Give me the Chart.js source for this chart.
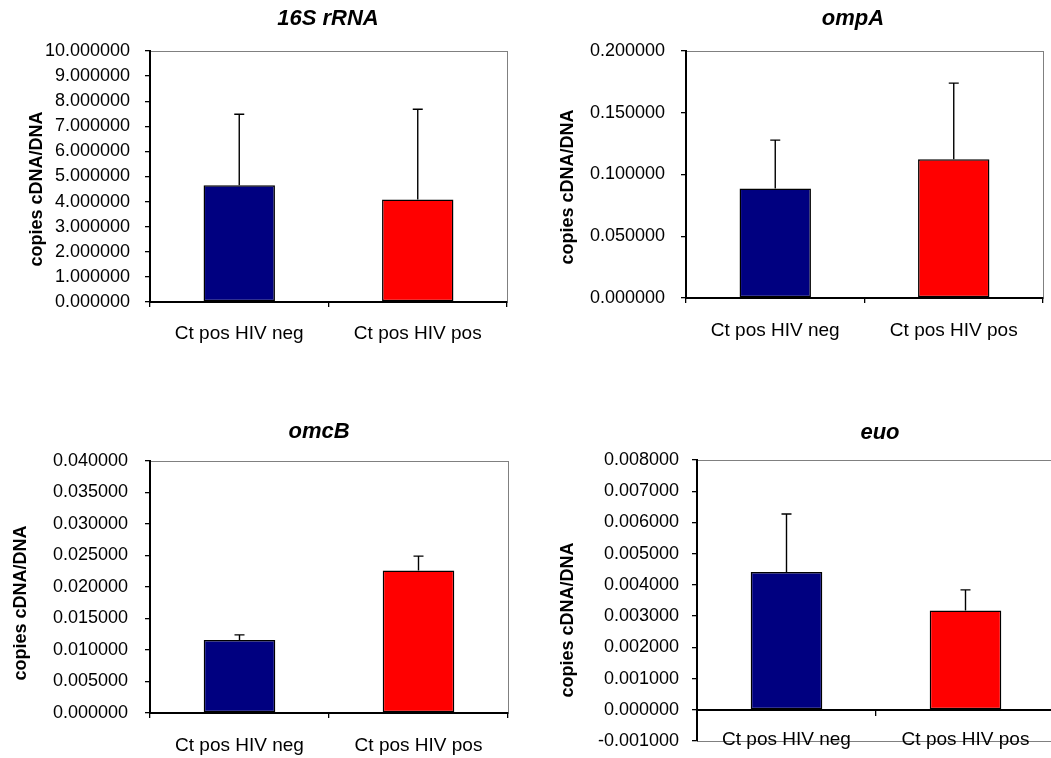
<!DOCTYPE html>
<html>
<head>
<meta charset="utf-8">
<script src="https://cdn.jsdelivr.net/npm/chart.js@4.4.1/dist/chart.umd.min.js"></script>
<style>
    html, body { margin: 0; padding: 0; background: #fff; width: 1051px; height: 758px; overflow: hidden; }
    canvas { position: absolute; left: 0; top: 0; }
</style>
</head>
<body>
<canvas id="rrnaChart" width="1060" height="800"></canvas>
<canvas id="ompaChart" width="1060" height="800"></canvas>
<canvas id="omcbChart" width="1060" height="800"></canvas>
<canvas id="euoChart" width="1060" height="800"></canvas>
<script>
const categories = ['Ct pos HIV neg', 'Ct pos HIV pos'];
const barColors = ['#000080', '#FF0000'];
const yAxisTitle = 'copies cDNA/DNA';

const rrnaValues = [4.65, 4.08];
const rrnaErrors = [2.83, 3.60];
const rrnaTicks = [0, 1, 2, 3, 4, 5, 6, 7, 8, 9, 10];

const ompaValues = [0.0887, 0.1124];
const ompaErrors = [0.0391, 0.0616];
const ompaTicks = [0, 0.05, 0.1, 0.15, 0.2];

const omcbValues = [0.0116, 0.0226];
const omcbErrors = [0.0008, 0.0023];
const omcbTicks = [0, 0.005, 0.01, 0.015, 0.02, 0.025, 0.03, 0.035, 0.04];

const euoValues = [0.00441, 0.00318];
const euoErrors = [0.00186, 0.00066];
const euoTicks = [-0.001, 0, 0.001, 0.002, 0.003, 0.004, 0.005, 0.006, 0.007, 0.008];

// canvases are a bit bigger than the page, the page clips them
const CANVAS_W = 1060;
const CANVAS_H = 800;
const FONT = "'Liberation Sans', Arial, Helvetica, sans-serif";

Chart.defaults.font.family = FONT;
Chart.defaults.color = '#000';

// grey box round the plot area (top/right, bottom in euo)
const framePlugin = {
    id: 'frame',
    beforeDraw(chart) {
        const { ctx, chartArea: a } = chart;
        ctx.save();
        ctx.strokeStyle = '#808080';
        ctx.lineWidth = 1;
        ctx.strokeRect(a.left + 0.5, a.top + 0.5, a.right - a.left, a.bottom - a.top);
        ctx.restore();
    }
};

// upper error bars, read from dataset.errors
const errorBarPlugin = {
    id: 'errorBars',
    afterDatasetsDraw(chart) {
        const ctx = chart.ctx;
        const yScale = chart.scales.y;
        const dataset = chart.data.datasets[0];
        const meta = chart.getDatasetMeta(0);
        ctx.save();
        ctx.strokeStyle = '#000';
        ctx.lineWidth = 1.4;
        meta.data.forEach((bar, i) => {
            const top = yScale.getPixelForValue(dataset.data[i] + dataset.errors[i]);
            ctx.beginPath();
            ctx.moveTo(bar.x, bar.y);
            ctx.lineTo(bar.x, top);
            ctx.moveTo(bar.x - 5, top);
            ctx.lineTo(bar.x + 5, top);
            ctx.stroke();
        });
        ctx.restore();
    }
};

function panelText(p) {
    return {
        id: 'panelText',
        afterDraw(chart) {
            const ctx = chart.ctx;
            ctx.save();
            ctx.fillStyle = '#000';
            ctx.textAlign = 'center';
            ctx.textBaseline = 'middle';
            ctx.font = 'italic bold 22px ' + FONT;
            ctx.fillText(p.title, p.titleX, p.titleY);
            ctx.translate(p.axisX, p.axisY);
            ctx.rotate(-Math.PI / 2);
            ctx.font = 'bold 18px ' + FONT;
            ctx.fillText(yAxisTitle, 0, 0);
            ctx.restore();
        }
    };
}

function makeChart(canvasId, p) {
    const xHeight = 60;
    const bottomPad = p.zeroAxis ? CANVAS_H - p.area.bottom : CANVAS_H - p.area.bottom - xHeight;
    return new Chart(document.getElementById(canvasId), {
        type: 'bar',
        data: {
            labels: categories,
            datasets: [{
                data: p.values,
                errors: p.errors,
                backgroundColor: barColors,
                borderColor: '#000',
                borderWidth: 1.5,
                borderSkipped: false,
                barPercentage: 0.4,
                categoryPercentage: 1
            }]
        },
        options: {
            responsive: false,
            animation: false,
            layout: {
                padding: { left: 0, top: p.area.top, right: CANVAS_W - p.area.right, bottom: bottomPad }
            },
            plugins: {
                legend: { display: false },
                tooltip: { enabled: false },
                title: { display: false }
            },
            scales: {
                x: {
                    position: p.zeroAxis ? { y: 0 } : 'bottom',
                    grid: { drawOnChartArea: false, color: '#000', tickLength: 5, offset: true, lineWidth: 1.3 },
                    border: { color: '#000', width: 2 },
                    ticks: { padding: p.xPad, maxRotation: 0, font: { size: 19 } },
                    afterFit: scale => { scale.height = xHeight; }
                },
                y: {
                    min: p.ticks[0],
                    max: p.ticks[p.ticks.length - 1],
                    afterBuildTicks: scale => { scale.ticks = p.ticks.map(v => ({ value: v })); },
                    grid: { drawOnChartArea: false, color: '#000', tickLength: 5, lineWidth: 1.3 },
                    border: { color: '#000', width: 2 },
                    ticks: {
                        padding: p.yPad,
                        autoSkip: false,
                        font: { size: 18 },
                        callback: value => Number(value).toFixed(6)
                    },
                    afterFit: scale => { scale.width = p.area.left; }
                }
            }
        },
        plugins: [framePlugin, errorBarPlugin, panelText(p)]
    });
}

makeChart('rrnaChart', {
    values: rrnaValues, errors: rrnaErrors, ticks: rrnaTicks,
    area: { left: 150, top: 51, right: 507, bottom: 302 },
    title: '16S rRNA', titleX: 328, titleY: 19,
    axisX: 37, axisY: 189, xPad: 15, yPad: 15
});

makeChart('ompaChart', {
    values: ompaValues, errors: ompaErrors, ticks: ompaTicks,
    area: { left: 686, top: 51, right: 1043, bottom: 298 },
    title: 'ompA', titleX: 853, titleY: 19,
    axisX: 568, axisY: 187, xPad: 16, yPad: 16
});

makeChart('omcbChart', {
    values: omcbValues, errors: omcbErrors, ticks: omcbTicks,
    area: { left: 150, top: 461, right: 508, bottom: 713 },
    title: 'omcB', titleX: 319, titleY: 432,
    axisX: 21, axisY: 603, xPad: 16, yPad: 17
});

makeChart('euoChart', {
    values: euoValues, errors: euoErrors, ticks: euoTicks,
    area: { left: 697, top: 460, right: 1055, bottom: 741 },
    title: 'euo', titleX: 880, titleY: 433,
    axisX: 568, axisY: 620, xPad: 14, yPad: 13,
    zeroAxis: true
});
</script>
</body>
</html>
